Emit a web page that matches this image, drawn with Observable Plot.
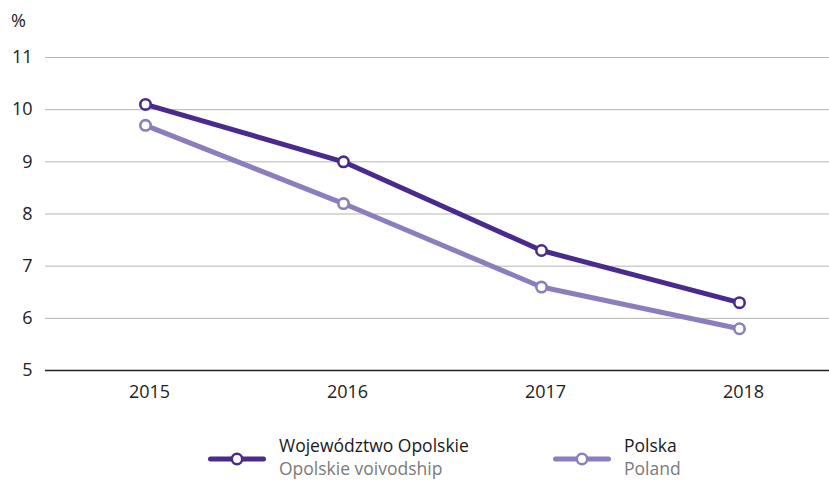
<!DOCTYPE html>
<html>
<head>
<meta charset="utf-8">
<script src="https://cdn.jsdelivr.net/npm/d3@7"></script>
<script src="https://cdn.jsdelivr.net/npm/@observablehq/plot@0.6"></script>
<style>
  html, body { margin: 0; padding: 0; background: #fff; }
  body { width: 829px; height: 480px; overflow: hidden; font-family: "Open Sans", sans-serif; }
  #wrap { position: relative; width: 829px; height: 480px; }
  #unit { position: absolute; left: 11px; top: 8px; font-size: 18px; color: #222; }
  .leg { position: absolute; top: 434px; display: flex; align-items: flex-start; }
  .leg svg { margin-top: 17px; }
  .leg .t1 { font-size: 17.5px; color: #1a1a1a; line-height: 23px; }
  .leg .t2 { font-size: 17.5px; color: #7a7a7a; line-height: 23px; }
</style>
</head>
<body>
<div id="wrap">
  <div id="chart"></div>
  <div id="unit">%</div>
  <div id="legend"></div>
</div>
<script>
const years = ["2015", "2016", "2017", "2018"];
const opolskie = [10.1, 9.0, 7.3, 6.3];
const polska = [9.7, 8.2, 6.6, 5.8];
const yTicks = [5, 6, 7, 8, 9, 10, 11];
const seriesNames = ["Województwo Opolskie", "Polska"];
const seriesNamesEn = ["Opolskie voivodship", "Poland"];
const colors = ["#4b2a8e", "#8c7dbd"];

const data = [
  ...years.map((y, i) => ({year: y, value: opolskie[i], s: seriesNames[0]})),
  ...years.map((y, i) => ({year: y, value: polska[i], s: seriesNames[1]}))
];

const chart = Plot.plot({
  width: 829,
  height: 420,
  marginTop: 57,
  marginBottom: 50,
  marginLeft: 45,
  marginRight: 0,
  style: {fontFamily: "Open Sans, sans-serif", fontSize: "18px", color: "#222", background: "#fff"},
  x: {type: "point", domain: years, range: [144, 739], padding: 0},
  y: {domain: [5, 11]},
  color: {domain: seriesNames, range: colors},
  marks: [
    Plot.gridY(yTicks.filter(d => d > 5), {stroke: "#b5b5b5", strokeOpacity: 1, strokeWidth: 1}),
    Plot.ruleY([5], {stroke: "#222", strokeWidth: 1.6}),
    Plot.axisY(yTicks, {tickSize: 0, tickPadding: 13, label: null, tickFormat: d => String(d)}),
    Plot.axisX({tickSize: 0, tickPadding: 15, label: null, dx: 4}),
    Plot.line(data.filter(d => d.s === seriesNames[1]), {x: "year", y: "value", stroke: colors[1], strokeWidth: 5, strokeLinejoin: "round"}),
    Plot.line(data.filter(d => d.s === seriesNames[0]), {x: "year", y: "value", stroke: colors[0], strokeWidth: 5, strokeLinejoin: "round"}),
    Plot.dot(data, {x: "year", y: "value", r: 5.2, fill: "#fff", stroke: "s", strokeWidth: 2.6})
  ]
});
document.getElementById("chart").appendChild(chart);

// Legend
const legend = document.getElementById("legend");
const legLeft = [208, 553];
seriesNames.forEach((name, i) => {
  const div = document.createElement("div");
  div.className = "leg";
  div.style.left = legLeft[i] + "px";
  div.innerHTML = `<svg width="58" height="16" viewBox="0 0 58 16">
      <line x1="2.5" y1="8" x2="55.5" y2="8" stroke="${colors[i]}" stroke-width="5" stroke-linecap="round"/>
      <circle cx="29" cy="8" r="5.2" fill="#fff" stroke="${colors[i]}" stroke-width="2.6"/>
    </svg>
    <div style="margin-left:13px">
      <div class="t1">${name}</div>
      <div class="t2">${seriesNamesEn[i]}</div>
    </div>`;
  legend.appendChild(div);
});
</script>
</body>
</html>
